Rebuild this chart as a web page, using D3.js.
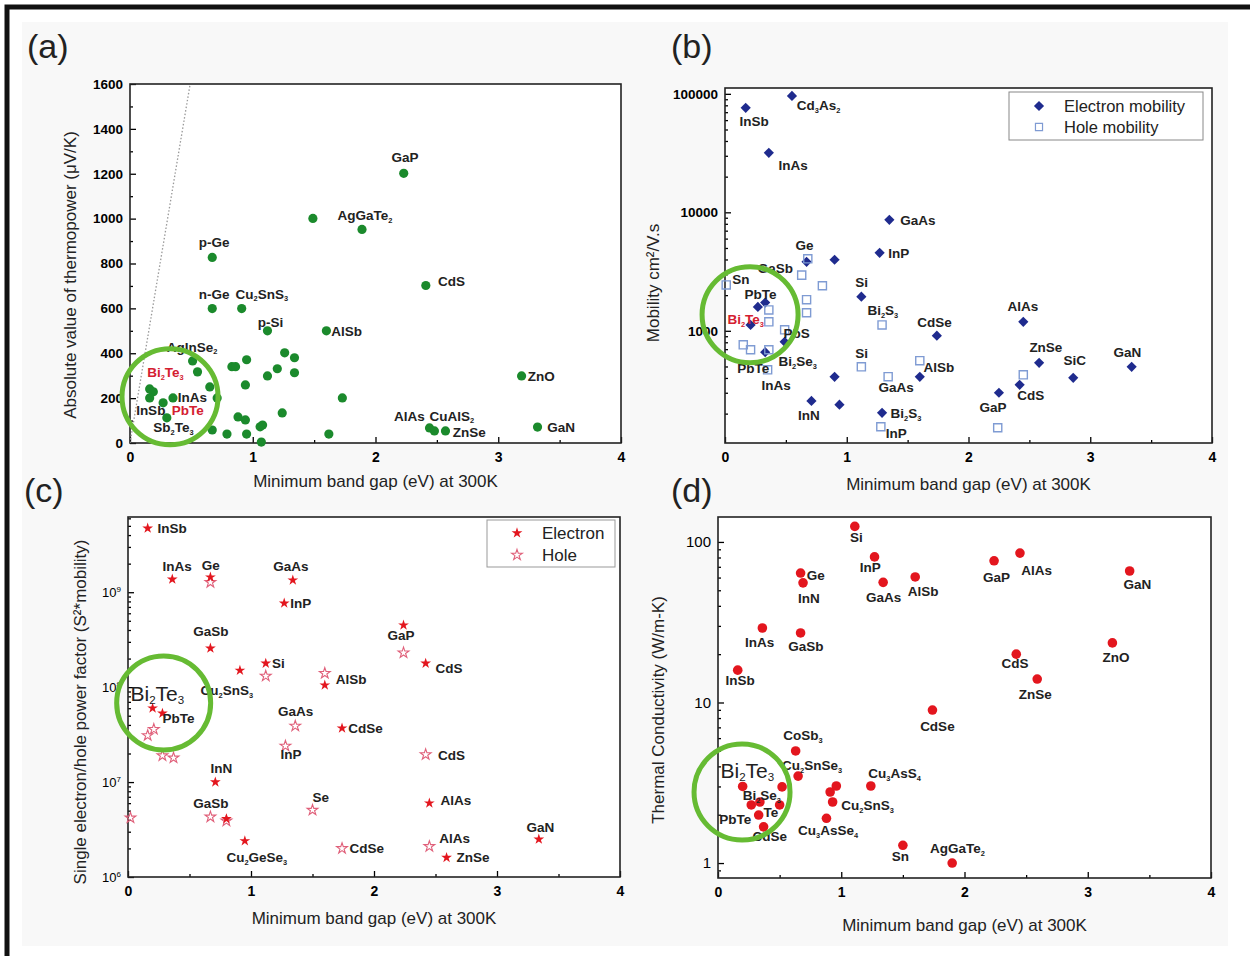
<!DOCTYPE html>
<html>
<head>
<meta charset="utf-8">
<script src="https://cdn.jsdelivr.net/npm/d3@7"></script>
<style>
  body { margin: 0; background: #fff; }
  text { font-family: "Liberation Sans", Arial, sans-serif; }
</style>
</head>
<body>
<svg id="fig" width="1250" height="956"></svg>
<script>
// shared x axis: minimum band gap (eV)
const xTicks = [0, 1, 2, 3, 4];
const xMinor = [0.5, 1.5, 2.5, 3.5];

// (a) thermopower
const gapA = [0.67, 0.67, 0.91, 1.12, 1.49, 0.51, 0.55, 0.16, 0.19, 0.16, 0.27, 0.35, 0.30, 0.65, 0.71,
  0.67, 0.79, 0.95, 0.83, 0.86, 0.95, 0.94, 0.88, 0.94, 1.06, 1.08, 1.07, 1.12, 1.20, 1.26, 1.34, 1.34,
  1.24, 1.60, 1.73, 1.62, 2.23, 1.89, 2.41, 3.19, 2.44, 2.48, 2.57, 3.32];
const seebeckA = [827, 599, 599, 500, 1001, 366, 317, 241, 228, 201, 179, 201, 112, 250, 201,
  58, 40, 40, 340, 340, 371, 259, 116, 103, 72, 80, 4, 299, 331, 402, 380, 313,
  134, 500, 201, 40, 1202, 952, 702, 299, 67, 54, 54, 71];
const yTicksA = [0, 200, 400, 600, 800, 1000, 1200, 1400, 1600];
const notesA = [["GaP", 2.13, 1274], ["AgGaTe_2", 1.69, 1014], ["p-Ge", 0.56, 894], ["n-Ge", 0.56, 666],
  ["Cu_2SnS_3", 0.86, 666], ["p-Si", 1.04, 541], ["CdS", 2.51, 720], ["AlSb", 1.64, 500],
  ["AgInSe_2", 0.30, 429], ["Bi_2Te_3", 0.14, 317], ["InAs", 0.39, 206], ["InSb", 0.05, 147],
  ["PbTe", 0.34, 147], ["Sb_2Te_3", 0.19, 72], ["ZnO", 3.24, 299], ["AlAs", 2.15, 122],
  ["CuAlS_2", 2.44, 122], ["ZnSe", 2.63, 48], ["GaN", 3.40, 72]];
const redNotesA = ["Bi_2Te_3", "PbTe"];

// (b) mobility
const gapElecB = [0.17, 0.55, 0.36, 1.35, 1.27, 0.67, 0.90, 1.12, 0.27, 0.33, 0.21, 0.49, 1.74, 0.90,
  1.60, 0.71, 0.94, 1.29, 2.45, 2.58, 2.86, 3.34, 2.25, 2.42, 0.33];
const muElecB = [76200, 96100, 31800, 8650, 4550, 3820, 3980, 1940, 1590, 1730, 1120, 807, 910, 409,
  409, 256, 238, 203, 1190, 537, 401, 497, 300, 350, 660];
const gapHoleB = [0.01, 0.68, 0.63, 0.80, 0.67, 0.67, 0.36, 0.36, 0.49, 0.15, 0.21, 0.36, 0.35, 1.12,
  1.29, 1.34, 1.28, 1.60, 2.45, 2.24];
const muHoleB = [2440, 4050, 2950, 2400, 1830, 1420, 1500, 1190, 1020, 762, 692, 692, 469, 497,
  1120, 410, 155, 559, 425, 152];
const yTicksB = [1000, 10000, 100000];
const notesB = [["InSb", 0.12, 59200], ["Cd_3As_2", 0.59, 80700], ["InAs", 0.44, 25200], ["GaAs", 1.44, 8650],
  ["InP", 1.34, 4550], ["Ge", 0.58, 5320], ["GaSb", 0.27, 3400], ["Sn", 0.06, 2750], ["Si", 1.07, 2590],
  ["PbTe", 0.16, 2050], ["Bi_2S_3", 1.17, 1500], ["Bi_2Te_3", 0.02, 1260], ["CdSe", 1.58, 1190],
  ["PbS", 0.48, 962], ["Si", 1.07, 652], ["Bi_2Se_3", 0.44, 558], ["AlSb", 1.63, 497], ["PbTe", 0.10, 488],
  ["AlAs", 2.32, 1625], ["ZnSe", 2.50, 733], ["SiC", 2.78, 569], ["GaN", 3.19, 666], ["InAs", 0.30, 350],
  ["GaAs", 1.26, 336], ["CdS", 2.40, 288], ["GaP", 2.09, 229], ["InN", 0.60, 195], ["Bi_2S_3", 1.36, 203],
  ["InP", 1.32, 138]];
const redNotesB = ["Bi_2Te_3"];
const legendB = ["Electron mobility", "Hole mobility"];

// (c) single carrier power factor
const gapElecC = [0.16, 0.36, 0.67, 1.34, 1.27, 0.67, 0.91, 1.12, 0.20, 0.28, 0.71, 0.80, 0.95, 1.60,
  2.24, 2.42, 1.74, 2.45, 3.34, 2.59];
const pfElecC = [4.72e9, 1.37e9, 1.44e9, 1.34e9, 7.66e8, 2.57e8, 1.5e8, 1.78e8, 6.0e7, 5.3e7, 1.0e7, 4.1e6,
  2.4e6, 1.05e8, 4.5e8, 1.78e8, 3.7e7, 6.0e6, 2.5e6, 1.6e6];
const gapHoleC = [0.67, 1.12, 1.60, 2.24, 0.16, 0.21, 0.28, 0.37, 1.36, 1.28, 0.67, 0.80, 1.50, 2.42,
  1.74, 2.45, 0.02];
const pfHoleC = [1.27e9, 1.31e8, 1.4e8, 2.3e8, 3.1e7, 3.6e7, 1.9e7, 1.8e7, 3.9e7, 2.4e7, 4.3e6, 3.9e6,
  5.07e6, 1.95e7, 2.0e6, 2.1e6, 4.2e6];
const yTicksC = [1e6, 1e7, 1e8, 1e9];
const notesC = [["InSb", 0.24, 4.72e9], ["InAs", 0.28, 1.88e9], ["Ge", 0.60, 1.92e9], ["GaAs", 1.18, 1.88e9],
  ["InP", 1.32, 7.66e8], ["GaSb", 0.53, 3.88e8], ["Si", 1.17, 1.79e8], ["GaP", 2.11, 3.52e8],
  ["CdS", 2.50, 1.58e8], ["AlSb", 1.69, 1.21e8], ["Cu_2SnS_3", 0.59, 9.3e7], ["PbTe", 0.28, 4.72e7],
  ["GaAs", 1.22, 5.58e7], ["CdSe", 1.79, 3.7e7], ["InP", 1.24, 1.97e7], ["CdS", 2.52, 1.92e7],
  ["InN", 0.67, 1.4e7], ["Se", 1.50, 6.95e6], ["AlAs", 2.54, 6.47e6], ["GaSb", 0.53, 6.0e6],
  ["GaN", 3.24, 3.36e6], ["AlAs", 2.53, 2.58e6], ["CdSe", 1.80, 2.02e6], ["Cu_2GeSe_3", 0.80, 1.62e6],
  ["ZnSe", 2.67, 1.62e6]];
const bigNoteC = ["Bi_2Te_3", 0.02, 8.65e7];
const legendC = ["Electron", "Hole"];

// (d) thermal conductivity
const gapD = [1.11, 1.27, 0.67, 0.69, 1.34, 1.60, 0.36, 0.67, 0.16, 1.74, 0.63, 0.65, 0.52, 0.20, 0.27,
  0.34, 0.50, 0.33, 0.37, 0.91, 0.96, 0.93, 1.24, 0.88, 1.50, 1.90, 2.24, 2.45, 3.34, 3.20, 2.42, 2.59];
const kappaD = [125, 80.7, 64, 55.6, 56, 60.5, 29.1, 27.1, 15.9, 8.97, 4.99, 3.48, 2.98, 3.0, 2.3,
  2.4, 2.3, 1.99, 1.68, 2.77, 3.02, 2.4, 3.02, 1.9, 1.29, 1.0, 76.3, 85.2, 65.9, 23.5, 20.0, 14.0];
const yTicksD = [1, 10, 100];
const notesD = [["Si", 1.07, 107], ["InP", 1.15, 69.8], ["Ge", 0.72, 62.2], ["InN", 0.65, 44.8],
  ["GaAs", 1.20, 45.4], ["AlSb", 1.54, 49.5], ["GaP", 2.15, 60.5], ["AlAs", 2.46, 67], ["GaN", 3.29, 54.7],
  ["InAs", 0.22, 23.8], ["GaSb", 0.57, 22.5], ["ZnO", 3.12, 19.2], ["CdS", 2.30, 17.6], ["InSb", 0.06, 13.8],
  ["ZnSe", 2.44, 11.3], ["CdSe", 1.64, 7.14], ["CoSb_3", 0.53, 6.28], ["Cu_2SnSe_3", 0.52, 4.08],
  ["Cu_3AsS_4", 1.22, 3.64], ["Bi_2Se_3", 0.20, 2.65], ["Cu_2SnS_3", 1.00, 2.30], ["Te", 0.37, 2.08],
  ["PbTe", 0.01, 1.88], ["Cu_3AsSe_4", 0.65, 1.61], ["CdSe", 0.28, 1.47], ["AgGaTe_2", 1.72, 1.24],
  ["Sn", 1.41, 1.11]];
const bigNoteD = ["Bi_2Te_3", 0.02, 3.8];

const svg = d3.select("#fig");
svg.append("rect").attr("width", 1250).attr("height", 956).attr("fill", "#fff");
svg.append("rect").attr("x", 22).attr("y", 22).attr("width", 1206).attr("height", 924).attr("fill", "#f8f8f8");
svg.append("path").attr("d", "M7,956V7H1250").attr("fill", "none").attr("stroke", "#111").attr("stroke-width", 5);

const green = "#1b8a2c", navy = "#1f2b8e", holeBlue = "#7f9bd3", red = "#e3161e", pink = "#e0607a";
const ring = "#66bb33";

// text with _n subscripts and ^n superscripts
function rich(g, str, x, y, size, fill, weight) {
  const t = g.append("text").attr("x", x).attr("y", y)
    .attr("font-size", size).attr("fill", fill).attr("font-weight", weight || "bold")
    .attr("dominant-baseline", "central");
  let shift = 0;
  str.split(/([_^]\d)/).forEach(p => {
    if (!p) return;
    if (p[0] === "_" || p[0] === "^") {
      const d = p[0] === "_" ? size * 0.35 : -size * 0.4;
      t.append("tspan").attr("dy", d - shift).attr("font-size", size * 0.55).text(p[1]);
      shift = d;
    } else {
      t.append("tspan").attr("dy", -shift).text(p);
      shift = 0;
    }
  });
  return t;
}

function panel(o) {
  const g = svg.append("g");
  const x = d3.scaleLinear().domain([0, 4]).range([o.x0, o.x1]);
  const y = (o.log ? d3.scaleLog() : d3.scaleLinear()).domain(o.ydom).range([o.y1, o.y0]);
  g.append("rect").attr("x", o.x0).attr("y", o.y0).attr("width", o.x1 - o.x0).attr("height", o.y1 - o.y0)
    .attr("fill", "#fff");
  const clean = a => a.select(".domain").remove();
  g.append("g").attr("transform", `translate(0,${o.y1})`)
    .call(d3.axisBottom(x).tickValues(xTicks).tickSize(-6).tickPadding(9).tickFormat(d3.format("d")))
    .call(clean).attr("font-size", 14).attr("font-weight", "bold");
  g.append("g").attr("transform", `translate(0,${o.y1})`)
    .call(d3.axisBottom(x).tickValues(xMinor).tickSize(-3).tickFormat(""))
    .call(clean);
  const yAx = g.append("g").attr("transform", `translate(${o.x0},0)`)
    .call(d3.axisLeft(y).tickValues(o.yTicks).tickSize(-6).tickPadding(7).tickFormat(d3.format("d")))
    .call(clean).attr("font-size", 13.5).attr("font-weight", "bold");
  const minor = o.log ? y.ticks().filter(v => !o.yTicks.includes(v)) : o.yMinor;
  g.append("g").attr("transform", `translate(${o.x0},0)`)
    .call(d3.axisLeft(y).tickValues(minor).tickSize(-3).tickFormat(""))
    .call(clean);
  g.selectAll(".tick line").attr("stroke-width", 1.3);
  g.append("rect").attr("x", o.x0).attr("y", o.y0).attr("width", o.x1 - o.x0).attr("height", o.y1 - o.y0)
    .attr("fill", "none").attr("stroke", "#222").attr("stroke-width", 1.6);
  g.append("text").attr("x", (o.x0 + o.x1) / 2).attr("y", o.xTitleY).attr("text-anchor", "middle")
    .attr("dominant-baseline", "central").attr("font-size", 17).attr("fill", "#222")
    .text("Minimum band gap (eV) at 300K");
  g.append("text").attr("transform", `translate(${o.yTitleX},${o.yTitleY}) rotate(-90)`)
    .attr("text-anchor", "middle").attr("dominant-baseline", "central").attr("font-size", 17).attr("fill", "#222")
    .text(o.yTitle);
  g.append("text").attr("x", o.tagX).attr("y", o.tagY).attr("font-size", 34).attr("fill", "#222")
    .attr("font-family", "Open Sans").text(o.tag);
  return { g, x, y, yAx };
}

function notes(p, list, reds) {
  list.forEach(([t, gx, gy]) => rich(p.g, t, p.x(gx), p.y(gy), 13.5, reds && reds.includes(t) ? "#d42030" : "#222"));
}

function halo(p, cx, cy, r) {
  p.g.append("circle").attr("cx", p.x(cx)).attr("cy", p.y(cy)).attr("r", r)
    .attr("fill", "none").attr("stroke", ring).attr("stroke-width", 5);
}

// ---------- (a) ----------
const pa = panel({ x0: 130, x1: 621, y0: 84, y1: 443, ydom: [0, 1600], yTicks: yTicksA,
  yMinor: d3.range(100, 1600, 200), xTitleY: 481, yTitleX: 70, yTitleY: 275,
  yTitle: "Absolute value of thermopower (\u03bcV/K)", tag: "(a)", tagX: 27, tagY: 58 });
pa.g.append("clipPath").attr("id", "clipA").append("rect").attr("x", 130).attr("y", 84).attr("width", 491).attr("height", 359);
pa.g.append("line").attr("clip-path", "url(#clipA)")
  .attr("x1", pa.x(0)).attr("y1", pa.y(0)).attr("x2", pa.x(0.49)).attr("y2", pa.y(1600))
  .attr("stroke", "#999").attr("stroke-width", 1.3).attr("stroke-dasharray", "1.5,2");
pa.g.selectAll(".dotA").data(gapA).join("circle").attr("class", "dotA")
  .attr("cx", d => pa.x(d)).attr("cy", (d, i) => pa.y(seebeckA[i])).attr("r", 4.6).attr("fill", green);
notes(pa, notesA, redNotesA);
halo(pa, 0.326, 206, 48);

// ---------- (b) ----------
const pb = panel({ x0: 725, x1: 1212, y0: 88, y1: 443, log: true, ydom: [113, 112000], yTicks: yTicksB,
  xTitleY: 484, yTitleX: 653, yTitleY: 283, yTitle: "Mobility cm\u00b2/V.s", tag: "(b)", tagX: 671, tagY: 58 });
const diamond = d3.symbol(d3.symbolSquare, 52);
pb.g.selectAll(".elecB").data(gapElecB).join("path").attr("class", "elecB").attr("d", diamond)
  .attr("transform", (d, i) => `translate(${pb.x(d)},${pb.y(muElecB[i])}) rotate(45)`).attr("fill", navy);
const square = d3.symbol(d3.symbolSquare, 66);
pb.g.selectAll(".holeB").data(gapHoleB).join("path").attr("class", "holeB").attr("d", square)
  .attr("transform", (d, i) => `translate(${pb.x(d)},${pb.y(muHoleB[i])})`)
  .attr("fill", "none").attr("stroke", holeBlue).attr("stroke-width", 1.4);
notes(pb, notesB, redNotesB);
halo(pb, 0.206, 1365, 48);
const lgB = pb.g.append("g");
lgB.append("rect").attr("x", 1009).attr("y", 92).attr("width", 194).attr("height", 48)
  .attr("fill", "#fff").attr("stroke", "#888").attr("stroke-width", 1);
lgB.append("path").attr("d", diamond).attr("transform", "translate(1039,106) rotate(45)").attr("fill", navy);
lgB.append("path").attr("d", d3.symbol(d3.symbolSquare, 50)).attr("transform", "translate(1039,127)")
  .attr("fill", "none").attr("stroke", holeBlue).attr("stroke-width", 1.2);
legendB.forEach((t, i) => lgB.append("text").attr("x", 1064).attr("y", 106 + i * 21)
  .attr("dominant-baseline", "central").attr("font-size", 16.5).attr("fill", "#222").text(t));

// ---------- (c) ----------
const pc = panel({ x0: 128, x1: 620, y0: 517, y1: 877, log: true, ydom: [1e6, 6.2e9], yTicks: yTicksC,
  xTitleY: 918, yTitleX: 80, yTitleY: 712, yTitle: "Single electron/hole power factor (S\u00b2*mobility)",
  tag: "(c)", tagX: 24, tagY: 502 });
pc.yAx.selectAll(".tick text").each(function (d) {
  const t = d3.select(this).text("10").attr("font-weight", "normal").attr("font-size", 13);
  t.append("tspan").attr("dy", "-0.6em").attr("font-size", 8).text(Math.round(Math.log10(d)));
});
const star = d3.symbol(d3.symbolStar, 36);
pc.g.selectAll(".holeC").data(gapHoleC).join("path").attr("class", "holeC").attr("d", star)
  .attr("transform", (d, i) => `translate(${pc.x(d)},${pc.y(pfHoleC[i])})`)
  .attr("fill", "none").attr("stroke", pink).attr("stroke-width", 1.1);
pc.g.selectAll(".elecC").data(gapElecC).join("path").attr("class", "elecC").attr("d", star)
  .attr("transform", (d, i) => `translate(${pc.x(d)},${pc.y(pfElecC[i])})`).attr("fill", red);
notes(pc, notesC);
rich(pc.g, bigNoteC[0], pc.x(bigNoteC[1]), pc.y(bigNoteC[2]), 21, "#222", "normal");
halo(pc, 0.29, 6.8e7, 47);
const lgC = pc.g.append("g");
lgC.append("rect").attr("x", 487).attr("y", 520).attr("width", 128).attr("height", 47)
  .attr("fill", "#fff").attr("stroke", "#999").attr("stroke-width", 1);
lgC.append("path").attr("d", star).attr("transform", "translate(517,533)").attr("fill", red);
lgC.append("path").attr("d", star).attr("transform", "translate(517,555)")
  .attr("fill", "none").attr("stroke", pink).attr("stroke-width", 1.1);
legendC.forEach((t, i) => lgC.append("text").attr("x", 542).attr("y", 533 + i * 22)
  .attr("dominant-baseline", "central").attr("font-size", 17).attr("fill", "#222").text(t));

// ---------- (d) ----------
const pd = panel({ x0: 718, x1: 1211, y0: 517, y1: 878, log: true, ydom: [0.807, 143], yTicks: yTicksD,
  xTitleY: 925, yTitleX: 658, yTitleY: 710, yTitle: "Thermal Conductivity (W/m-K)",
  tag: "(d)", tagX: 671, tagY: 502 });
pd.yAx.selectAll(".tick text").attr("font-weight", "normal").attr("font-size", 15);
pd.g.selectAll(".dotD").data(gapD).join("circle").attr("class", "dotD")
  .attr("cx", d => pd.x(d)).attr("cy", (d, i) => pd.y(kappaD[i])).attr("r", 4.8).attr("fill", red);
notes(pd, notesD);
rich(pd.g, bigNoteD[0], pd.x(bigNoteD[1]), pd.y(bigNoteD[2]), 21, "#222", "normal");
halo(pd, 0.195, 2.77, 48);
</script>
</body>
</html>
